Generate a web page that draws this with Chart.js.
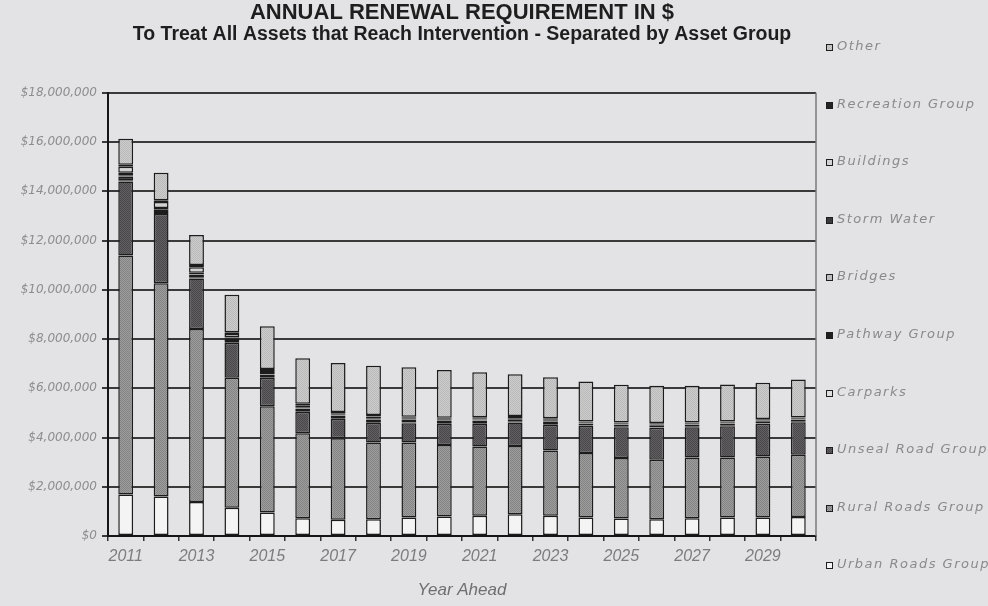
<!DOCTYPE html>
<html>
<head>
<meta charset="utf-8">
<title>Annual Renewal Requirement</title>
<script src="https://cdn.jsdelivr.net/npm/chart.js@4.4.0/dist/chart.umd.min.js"></script>
<style>
  html, body { margin: 0; padding: 0; background: #e3e2e4; }
  #grafico { display: block; }
</style>
</head>
<body>
<canvas id="grafico" width="988" height="606"></canvas>
<script>
// ===================== DADOS (milhoes de $) =====================

const anos = ["2011", "2012", "2013", "2014", "2015", "2016", "2017", "2018", "2019", "2020",
              "2021", "2022", "2023", "2024", "2025", "2026", "2027", "2028", "2029", "2030"];

const urbanRoads = [1.69, 1.60, 1.38, 1.15, 0.95, 0.72, 0.66, 0.68, 0.75, 0.79, 0.82, 0.88, 0.82, 0.75, 0.71, 0.68, 0.72, 0.75, 0.75, 0.77];
const ruralRoads = [9.70, 8.67, 7.03, 5.28, 4.32, 3.45, 3.31, 3.12, 3.05, 2.91, 2.81, 2.78, 2.65, 2.62, 2.46, 2.42, 2.47, 2.44, 2.48, 2.53];
const unsealRoad = [3.01, 2.81, 2.05, 1.42, 1.15, 0.87, 0.78, 0.80, 0.78, 0.85, 0.92, 0.95, 1.05, 1.10, 1.25, 1.30, 1.23, 1.27, 1.33, 1.32];
const carparks   = [0.05, 0.04, 0.03, 0.03, 0.03, 0.03, 0.03, 0.03, 0.03, 0.03, 0.03, 0.03, 0.03, 0.02, 0.02, 0.02, 0.02, 0.02, 0.02, 0.02];
const pathway    = [0.15, 0.12, 0.12, 0.12, 0.10, 0.10, 0.10, 0.10, 0.10, 0.09, 0.10, 0.10, 0.10, 0.07, 0.08, 0.08, 0.08, 0.08, 0.08, 0.08];
const bridges    = [0.05, 0.03, 0.02, 0.02, 0.02, 0.02, 0.02, 0.02, 0.02, 0.02, 0.02, 0.02, 0.02, 0.01, 0.01, 0.01, 0.01, 0.01, 0.01, 0.01];
const stormWater = [0.10, 0.05, 0.06, 0.04, 0.05, 0.04, 0.04, 0.03, 0.03, 0.03, 0.03, 0.03, 0.03, 0.02, 0.02, 0.02, 0.02, 0.02, 0.02, 0.02];
const buildings  = [0.25, 0.24, 0.22, 0.14, 0.08, 0.08, 0.05, 0.07, 0.04, 0.04, 0.05, 0.04, 0.04, 0.03, 0.03, 0.03, 0.03, 0.03, 0.03, 0.03];
const recreation = [0.08, 0.08, 0.10, 0.08, 0.08, 0.06, 0.05, 0.06, 0.04, 0.04, 0.04, 0.04, 0.04, 0.03, 0.03, 0.03, 0.03, 0.03, 0.03, 0.03];
const other      = [1.05, 1.11, 1.21, 1.52, 1.74, 1.85, 1.99, 2.00, 2.01, 1.94, 1.83, 1.70, 1.67, 1.62, 1.53, 1.51, 1.49, 1.50, 1.47, 1.55];

const yTicks = [0, 2, 4, 6, 8, 10, 12, 14, 16, 18];

// ===================== PADROES =====================

function pontilhado(base, ponto) {
  const c = document.createElement("canvas");
  c.width = 2;
  c.height = 2;
  const g = c.getContext("2d");
  g.fillStyle = base;
  g.fillRect(0, 0, 2, 2);
  g.fillStyle = ponto;
  g.fillRect(0, 0, 1, 1);
  g.fillRect(1, 1, 1, 1);
  return g.createPattern(c, "repeat");
}

// ===================== PLUGINS =====================

// legenda lateral, de cima (Other) para baixo (Urban Roads)
const legendaLateral = {
  id: "legendaLateral",
  afterDraw(chart, args, opts) {
    const ctx = chart.ctx;
    const sets = chart.data.datasets.slice().reverse();
    ctx.save();
    ctx.font = opts.font;
    ctx.textBaseline = "middle";
    if ("letterSpacing" in ctx) ctx.letterSpacing = opts.spacing;
    sets.forEach((ds, i) => {
      const y = Math.round(opts.top + i * opts.step);
      ctx.fillStyle = ds.backgroundColor;
      ctx.fillRect(opts.x, y - 3, 7, 7);
      ctx.strokeStyle = "#1e1e1e";
      ctx.lineWidth = 1;
      ctx.strokeRect(opts.x + 0.5, y - 2.5, 6, 6);
      ctx.fillStyle = opts.color;
      ctx.fillText(ds.label, opts.x + 11, y);
    });
    ctx.restore();
  },
};

// borda direita da area do grafico
const moldura = {
  id: "moldura",
  beforeDatasetsDraw(chart) {
    const { ctx, chartArea: a } = chart;
    ctx.save();
    ctx.strokeStyle = "#7a7a7a";
    ctx.lineWidth = 1.5;
    ctx.beginPath();
    ctx.moveTo(a.right, a.top);
    ctx.lineTo(a.right, a.bottom);
    ctx.stroke();
    ctx.restore();
  },
};

// ===================== GRAFICO =====================

function serie(label, data, cor) {
  return {
    label: label,
    data: data,
    backgroundColor: cor,
    borderColor: "#1c1c1c",
    borderWidth: 1.5,
    borderSkipped: false,
    barPercentage: 0.84,
    categoryPercentage: 0.5,
  };
}

const ctx = document.getElementById("grafico");

new Chart(ctx, {
  type: "bar",
  data: {
    labels: anos,
    datasets: [
      serie("Urban Roads Group", urbanRoads, "#f4f4f4"),
      serie("Rural Roads Group", ruralRoads, pontilhado("#9e9e9e", "#838383")),
      serie("Unseal Road Group", unsealRoad, pontilhado("#636063", "#4a474a")),
      serie("Carparks", carparks, "#dedede"),
      serie("Pathway Group", pathway, "#202020"),
      serie("Bridges", bridges, "#bdbdbd"),
      serie("Storm Water", stormWater, "#3a3a3a"),
      serie("Buildings", buildings, "#d2d2d2"),
      serie("Recreation Group", recreation, "#242424"),
      serie("Other", other, pontilhado("#cdcdcd", "#b9b9b9")),
    ],
  },
  options: {
    responsive: false,
    animation: false,
    devicePixelRatio: 1,
    layout: { padding: { left: 0, right: 172, top: 0, bottom: 0 } },
    plugins: {
      legend: { display: false },
      tooltip: { enabled: false },
      title: {
        display: true,
        text: "ANNUAL RENEWAL REQUIREMENT IN $",
        fullSize: false,
        color: "#1e1e1e",
        font: { family: "Liberation Sans", size: 22, weight: "bold", lineHeight: 1.15 },
        padding: { top: 0, bottom: 0 },
      },
      subtitle: {
        display: true,
        text: "To Treat All Assets that Reach Intervention - Separated by Asset Group",
        fullSize: false,
        color: "#1e1e1e",
        font: { family: "Liberation Sans", size: 19.5, weight: "bold", lineHeight: 1 },
        padding: { top: 0, bottom: 48 },
      },
      legendaLateral: {
        x: 826,
        top: 47,
        step: 57.6,
        font: "italic 13px 'DejaVu Sans'",
        spacing: "1.5px",
        color: "#8a8a8a",
      },
    },
    scales: {
      x: {
        stacked: true,
        grid: { drawOnChartArea: false, tickLength: 5, color: "#333333", lineWidth: 1.5 },
        border: { color: "#151515", width: 2 },
        ticks: {
          autoSkip: false,
          maxRotation: 0,
          padding: 6,
          color: "#7c7c7c",
          font: { family: "Liberation Sans", size: 16, style: "italic" },
          callback: (v, i) => (i % 2 === 0 ? anos[i] : ""),
        },
        title: {
          display: true,
          text: "Year Ahead",
          color: "#6f6f6f",
          font: { family: "Liberation Sans", size: 17, style: "italic" },
          padding: { top: 0, bottom: 6 },
        },
        afterFit: (s) => { s.height = 70; },
      },
      y: {
        stacked: true,
        min: 0,
        max: 18,
        afterBuildTicks: (s) => { s.ticks = yTicks.map((v) => ({ value: v })); },
        grid: { color: "#3a3a3a", lineWidth: 2, tickLength: 6 },
        border: { color: "#151515", width: 2 },
        ticks: {
          padding: 5,
          color: "#8d8d8d",
          font: { family: "DejaVu Sans", size: 12, style: "italic" },
          callback: (v) => "$" + (v * 1000000).toLocaleString("en-US"),
        },
        afterFit: (s) => { s.width = 108; },
      },
    },
  },
  plugins: [moldura, legendaLateral],
});
</script>
</body>
</html>
